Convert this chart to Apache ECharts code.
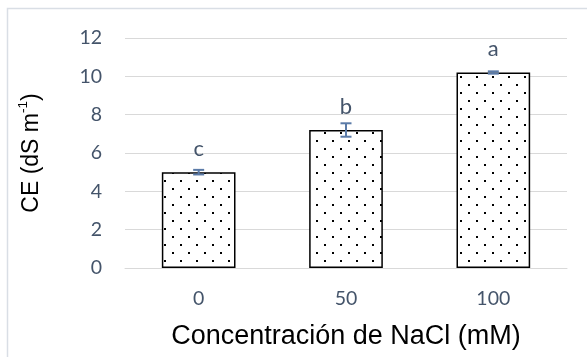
<!DOCTYPE html>
<html>
<head>
<meta charset="utf-8">
<script src="https://cdn.jsdelivr.net/npm/echarts@6/dist/echarts.min.js"></script>
<style>
html,body{margin:0;padding:0;background:#fff;}
#c{width:587px;height:357px;}
</style>
</head>
<body>
<div id="c"></div>
<script>
var categories = ['0', '50', '100'];
var values = [5.0, 7.2, 10.2];
var errors = [0.12, 0.35, 0.06];
var letters = ['c', 'b', 'a'];
var yTicks = [0, 2, 4, 6, 8, 10, 12];

// dotted pattern
var tile = document.createElement('canvas');
tile.width = 16; tile.height = 16;
var tctx = tile.getContext('2d');
tctx.fillStyle = '#fff';
tctx.fillRect(0, 0, 16, 16);
tctx.fillStyle = '#000';
tctx.fillRect(4, 4, 2, 2);
tctx.fillRect(12, 12, 2, 2);

var chart = echarts.init(document.getElementById('c'), null, {renderer: 'canvas'});
var option = {
  animation: false,
  backgroundColor: '#fff',
  graphic: [{
    type: 'rect',
    shape: {x: 7.5, y: 8.5, width: 700, height: 500},
    style: {fill: 'none', stroke: '#D9DEE5', lineWidth: 1.5},
    silent: true,
    z: -10
  }],
  grid: {left: 125, right: 20, top: 38, bottom: 89},
  xAxis: {
    type: 'category',
    data: categories,
    axisLine: {lineStyle: {color: '#D9D9D9', width: 1}},
    axisTick: {show: false},
    axisLabel: {color: '#44546A', fontFamily: 'Lato', fontSize: 19.5, margin: 21},
    name: 'Concentración de NaCl (mM)',
    nameLocation: 'middle',
    nameGap: 55,
    nameTextStyle: {color: '#000', fontFamily: 'Liberation Sans', fontSize: 27}
  },
  yAxis: {
    type: 'value',
    min: 0, max: 12, interval: 2,
    axisLine: {show: false},
    axisTick: {show: false},
    splitLine: {lineStyle: {color: '#D9D9D9', width: 1}},
    axisLabel: {color: '#44546A', fontFamily: 'Lato', fontSize: 19.5, margin: 23,
      formatter: function (v) { return yTicks.indexOf(v) >= 0 ? String(v) : ''; }},
    name: '{a|CE (dS m}{s|-1}{a|)}',
    nameLocation: 'middle',
    nameRotate: 90,
    nameGap: 82,
    nameTextStyle: {
      color: '#000', fontFamily: 'Liberation Sans', fontSize: 23,
      rich: {
        a: {fontSize: 23, fontFamily: 'Liberation Sans', color: '#000', lineHeight: 27, verticalAlign: 'bottom'},
        s: {fontSize: 13.5, fontFamily: 'Liberation Sans', color: '#000', lineHeight: 27, verticalAlign: 'top'}
      }
    }
  },
  series: [{
    type: 'bar',
    data: values,
    barWidth: '50%',
    itemStyle: {
      color: {image: tile, repeat: 'repeat'},
      borderColor: '#000',
      borderWidth: 1.5
    },
    label: {
      show: true,
      position: 'top',
      distance: 12.5,
      color: '#44546A',
      fontFamily: 'Lato',
      fontSize: 22,
      formatter: function (p) { return letters[p.dataIndex]; }
    }
  }, {
    type: 'custom',
    data: values.map(function (v, i) { return [i, v, errors[i]]; }),
    z: 10,
    renderItem: function (params, api) {
      var i = api.value(0), v = api.value(1), e = api.value(2);
      var hi = api.coord([i, v + e]);
      var lo = api.coord([i, v - e]);
      var hw = 5.5;
      var st = {stroke: '#5B7BA8', lineWidth: 2};
      return {
        type: 'group',
        children: [
          {type: 'line', shape: {x1: hi[0], y1: hi[1], x2: lo[0], y2: lo[1]}, style: st},
          {type: 'line', shape: {x1: hi[0] - hw, y1: hi[1], x2: hi[0] + hw, y2: hi[1]}, style: st},
          {type: 'line', shape: {x1: lo[0] - hw, y1: lo[1], x2: lo[0] + hw, y2: lo[1]}, style: st}
        ]
      };
    }
  }]
};
chart.setOption(option);
</script>
</body>
</html>
